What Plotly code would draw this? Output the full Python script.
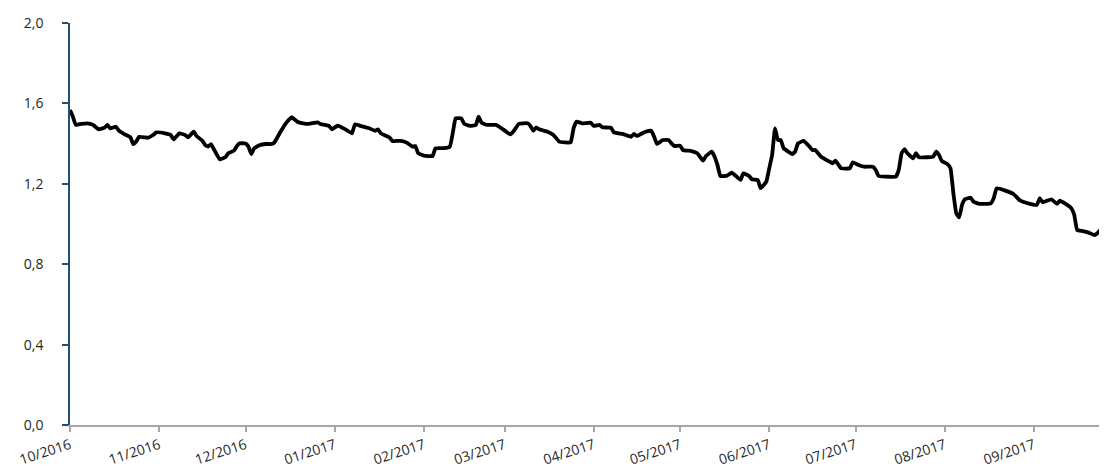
import plotly.graph_objects as go

dates = [
    "2016-10-01", "2016-10-02", "2016-10-03", "2016-10-05", "2016-10-07", "2016-10-09",
    "2016-10-11", "2016-10-13", "2016-10-14", "2016-10-15", "2016-10-17", "2016-10-18",
    "2016-10-20", "2016-10-22", "2016-10-23", "2016-10-24", "2016-10-25", "2016-10-27",
    "2016-10-28", "2016-10-30", "2016-10-31", "2016-11-03", "2016-11-05", "2016-11-06",
    "2016-11-08", "2016-11-10", "2016-11-11", "2016-11-13", "2016-11-14", "2016-11-16",
    "2016-11-17", "2016-11-18", "2016-11-19", "2016-11-20", "2016-11-22", "2016-11-24",
    "2016-11-25", "2016-11-27", "2016-11-28", "2016-11-29", "2016-12-01", "2016-12-02",
    "2016-12-03", "2016-12-04", "2016-12-06", "2016-12-08", "2016-12-10", "2016-12-11",
    "2016-12-13", "2016-12-15", "2016-12-17", "2016-12-19", "2016-12-21", "2016-12-23",
    "2016-12-26", "2016-12-27", "2016-12-30", "2016-12-31", "2017-01-02", "2017-01-05",
    "2017-01-07", "2017-01-08", "2017-01-10", "2017-01-13", "2017-01-15", "2017-01-16",
    "2017-01-17", "2017-01-20", "2017-01-21", "2017-01-24", "2017-01-26", "2017-01-28",
    "2017-01-29", "2017-01-30", "2017-02-01", "2017-02-04", "2017-02-05", "2017-02-08",
    "2017-02-10", "2017-02-11", "2017-02-12", "2017-02-14", "2017-02-15", "2017-02-17",
    "2017-02-19", "2017-02-20", "2017-02-21", "2017-02-23", "2017-02-26", "2017-02-28",
    "2017-03-03", "2017-03-04", "2017-03-06", "2017-03-09", "2017-03-10", "2017-03-11",
    "2017-03-12", "2017-03-13", "2017-03-16", "2017-03-18", "2017-03-20", "2017-03-22",
    "2017-03-24", "2017-03-25", "2017-03-26", "2017-03-28", "2017-03-31", "2017-04-01",
    "2017-04-03", "2017-04-04", "2017-04-07", "2017-04-08", "2017-04-11", "2017-04-14",
    "2017-04-15", "2017-04-16", "2017-04-19", "2017-04-21", "2017-04-22", "2017-04-23",
    "2017-04-25", "2017-04-27", "2017-04-28", "2017-04-29", "2017-05-01", "2017-05-02",
    "2017-05-05", "2017-05-07", "2017-05-09", "2017-05-10", "2017-05-12", "2017-05-13",
    "2017-05-14", "2017-05-15", "2017-05-17", "2017-05-19", "2017-05-20", "2017-05-22",
    "2017-05-23", "2017-05-25", "2017-05-26", "2017-05-28", "2017-05-29", "2017-05-31",
    "2017-06-01", "2017-06-02", "2017-06-03", "2017-06-04", "2017-06-05", "2017-06-06",
    "2017-06-09", "2017-06-10", "2017-06-11", "2017-06-13", "2017-06-15", "2017-06-16",
    "2017-06-17", "2017-06-19", "2017-06-22", "2017-06-23", "2017-06-24", "2017-06-26",
    "2017-06-29", "2017-06-30", "2017-07-02", "2017-07-04", "2017-07-07", "2017-07-08",
    "2017-07-09", "2017-07-13", "2017-07-15", "2017-07-16", "2017-07-17", "2017-07-18",
    "2017-07-19", "2017-07-21", "2017-07-22", "2017-07-23", "2017-07-26", "2017-07-28",
    "2017-07-29", "2017-07-30", "2017-07-31", "2017-08-02", "2017-08-03", "2017-08-04",
    "2017-08-05", "2017-08-06", "2017-08-07", "2017-08-08", "2017-08-10", "2017-08-11",
    "2017-08-13", "2017-08-17", "2017-08-18", "2017-08-19", "2017-08-22", "2017-08-25",
    "2017-08-27", "2017-08-30", "2017-09-02", "2017-09-03", "2017-09-04", "2017-09-07",
    "2017-09-09", "2017-09-10", "2017-09-12", "2017-09-14", "2017-09-15", "2017-09-16",
    "2017-09-18", "2017-09-20", "2017-09-22", "2017-09-23", "2017-09-25", "2017-09-26",
    "2017-09-27",
]

values = [
    1.567, 1.534, 1.493, 1.498, 1.501, 1.493,
    1.471, 1.479, 1.493, 1.476, 1.484, 1.464,
    1.446, 1.431, 1.397, 1.410, 1.434, 1.431,
    1.429, 1.444, 1.456, 1.451, 1.443, 1.421,
    1.451, 1.443, 1.431, 1.459, 1.438, 1.414,
    1.393, 1.385, 1.397, 1.372, 1.322, 1.332,
    1.352, 1.365, 1.388, 1.401, 1.401, 1.385,
    1.348, 1.377, 1.393, 1.398, 1.398, 1.405,
    1.455, 1.501, 1.531, 1.509, 1.501, 1.498,
    1.506, 1.498, 1.488, 1.471, 1.489, 1.468,
    1.451, 1.496, 1.488, 1.476, 1.464, 1.471,
    1.451, 1.431, 1.413, 1.414, 1.405, 1.385,
    1.388, 1.352, 1.340, 1.338, 1.377, 1.377,
    1.385, 1.451, 1.526, 1.526, 1.498, 1.488,
    1.492, 1.534, 1.504, 1.493, 1.493, 1.476,
    1.446, 1.459, 1.498, 1.501, 1.488, 1.464,
    1.481, 1.471, 1.459, 1.443, 1.410, 1.406,
    1.406, 1.476, 1.509, 1.501, 1.504, 1.488,
    1.493, 1.481, 1.479, 1.456, 1.448, 1.434,
    1.448, 1.438, 1.459, 1.464, 1.434, 1.398,
    1.418, 1.418, 1.401, 1.388, 1.390, 1.368,
    1.363, 1.352, 1.315, 1.338, 1.360, 1.335,
    1.294, 1.239, 1.239, 1.255, 1.244, 1.219,
    1.252, 1.239, 1.222, 1.219, 1.178, 1.211,
    1.277, 1.343, 1.476, 1.418, 1.418, 1.377,
    1.348, 1.360, 1.401, 1.414, 1.385, 1.368,
    1.368, 1.335, 1.310, 1.302, 1.315, 1.277,
    1.277, 1.307, 1.294, 1.285, 1.285, 1.269,
    1.239, 1.235, 1.235, 1.269, 1.352, 1.372,
    1.352, 1.327, 1.352, 1.332, 1.332, 1.335,
    1.360, 1.343, 1.313, 1.297, 1.277, 1.152,
    1.053, 1.033, 1.095, 1.123, 1.131, 1.111,
    1.100, 1.103, 1.128, 1.177, 1.166, 1.148,
    1.119, 1.103, 1.095, 1.128, 1.108, 1.123,
    1.100, 1.116, 1.100, 1.078, 1.045, 0.970,
    0.965, 0.957, 0.945, 0.954, 0.987, 1.003,
    1.000,
]

month_ticks = ["2016-10-01", "2016-11-01", "2016-12-01", "2017-01-01", "2017-02-01",
               "2017-03-01", "2017-04-01", "2017-05-01", "2017-06-01", "2017-07-01",
               "2017-08-01", "2017-09-01"]
month_labels = ["10/2016", "11/2016", "12/2016", "01/2017", "02/2017", "03/2017",
                "04/2017", "05/2017", "06/2017", "07/2017", "08/2017", "09/2017"]

y_ticks = [0.0, 0.4, 0.8, 1.2, 1.6, 2.0]
y_labels = ["0,0", "0,4", "0,8", "1,2", "1,6", "2,0"]

fig = go.Figure()
fig.add_trace(go.Scatter(
    x=dates, y=values, mode="lines",
    line=dict(color="black", width=3.8, shape="spline", smoothing=0.3),
    showlegend=False, hoverinfo="x+y",
))

font = dict(family="Open Sans, Liberation Sans, sans-serif", size=13, color="#262626")

# the page body has an 8px default margin, so the figure is offset by 8px
fig.update_layout(
    width=1099, height=464,
    margin=dict(l=62, r=0, t=15, b=47, autoexpand=False),
    paper_bgcolor="white", plot_bgcolor="white",
    font=font,
    xaxis=dict(
        type="date",
        range=["2016-10-01", "2017-09-26 09:00"],
        tickvals=month_ticks, ticktext=month_labels,
        tickangle=-18,
        showgrid=False, zeroline=False,
        showline=True, linecolor="#A6A6A6", linewidth=1.5,
        ticks="outside", ticklen=5, tickcolor="#A6A6A6", tickwidth=1.5,
        tickfont=dict(size=14),
        automargin=False,
    ),
    yaxis=dict(
        range=[0, 2.0],
        tickvals=y_ticks, ticktext=y_labels,
        showgrid=False, zeroline=False,
        showline=True, linecolor="#1F4E79", linewidth=1.5,
        ticks="outside", ticklen=6, tickcolor="#1F4E79", tickwidth=1.5,
        tickfont=dict(size=14),
        ticklabelstandoff=16,
        automargin=False,
    ),
)

fig.write_html("out.html")
